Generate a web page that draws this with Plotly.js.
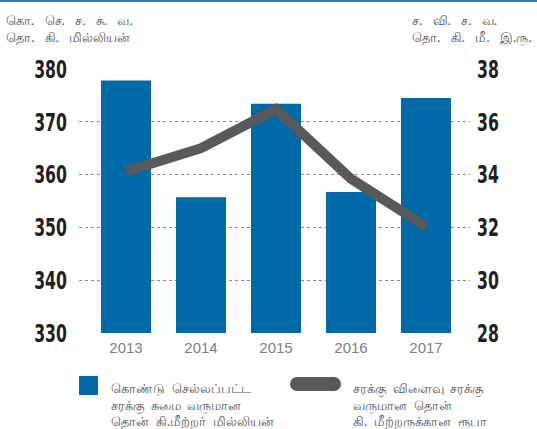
<!DOCTYPE html>
<html>
<head>
<meta charset="utf-8">
<script src="https://cdn.plot.ly/plotly-3.0.1.min.js"></script>
<style>html,body{margin:0;padding:0;background:#fff}#chart{width:537px;height:429px}</style>
</head>
<body>
<div id="chart"></div>
<script>
var years = ['2013', '2014', '2015', '2016', '2017'];
var freightTonKm = [377.8, 355.7, 373.4, 356.7, 374.5];
var revenuePerTonKm = [34.12, 35.0, 36.48, 33.84, 32.03];
var leftTicks = [330, 340, 350, 360, 370, 380];
var rightTicks = [28, 30, 32, 34, 36, 38];
var leftTitle = 'கொ.&nbsp;&nbsp; செ.&nbsp;&nbsp; ச.&nbsp;&nbsp; சு.&nbsp;&nbsp; வ.<br>தொ.&nbsp;&nbsp; கி.&nbsp;&nbsp; மில்லியன்';
var rightTitle = 'ச.&nbsp;&nbsp; வி.&nbsp;&nbsp; ச.&nbsp;&nbsp; வ.<br>தொ.&nbsp;&nbsp; கி.&nbsp;&nbsp; மீ.&nbsp;&nbsp; இ.ரு.';
var barLegend = 'கொண்டு&nbsp; செல்லப்பட்ட<br>சரக்கு&nbsp; சுமை&nbsp; வருமான<br>தொன்&nbsp; கி.மீற்றர்&nbsp; மில்லியன்';
var lineLegend = 'சரக்கு&nbsp; விளைவு&nbsp; சரக்கு<br>வருமான&nbsp; தொன்<br>கி.&nbsp; மீற்றருக்கான&nbsp; ரூபா';

var W = 537, H = 429, L = 79, R = 67, T = 69, B = 96;
var pw = W - L - R, ph = H - T - B;
function px(x){ return (x - L) / pw; }
function py(y){ return (H - B - y) / ph; }

var tickFont = {family: '"DejaVu Sans Condensed", "Liberation Sans Narrow", sans-serif', size: 25, color: '#231f20', weight: 700};
var titleFont = {family: '"Noto Sans", "Liberation Sans", sans-serif', size: 13, color: '#555555'};
var legFont = {family: '"Noto Sans", "Liberation Sans", sans-serif', size: 12.8, color: '#555555'};

var data = [
  {type: 'bar', x: years, y: freightTonKm, marker: {color: '#0069a7'}, showlegend: false, hoverinfo: 'none'},
  {type: 'scatter', mode: 'lines', x: years, y: revenuePerTonKm, yaxis: 'y2',
   line: {color: '#58595b', width: 10}, showlegend: false, hoverinfo: 'none'}
];

var layout = {
  width: W, height: H,
  margin: {l: L, r: R, t: T, b: B},
  paper_bgcolor: '#ffffff', plot_bgcolor: '#ffffff',
  bargap: 0.333,
  xaxis: {type: 'category', range: [-0.627, 4.587], showgrid: false, zeroline: false, showline: false, ticks: '',
          tickfont: {family: '"Liberation Sans", Arial, sans-serif', size: 15, color: '#808080'}, ticklabelstandoff: 4},
  yaxis: {range: [330, 380], tickvals: leftTicks, ticktext: leftTicks.map(String), showgrid: true, gridcolor: '#8a8a8a', griddash: 'dot', gridwidth: 1,
          zeroline: false, showline: false, ticks: '', tickfont: tickFont, ticklabelstandoff: 11},
  yaxis2: {range: [28, 38], overlaying: 'y', side: 'right', tickvals: rightTicks, ticktext: rightTicks.map(String), showgrid: false,
           zeroline: false, showline: false, ticks: '', tickfont: tickFont, ticklabelstandoff: 6},
  shapes: [
    {type: 'line', xref: 'paper', yref: 'paper', x0: px(0), x1: px(W), y0: py(1), y1: py(1), line: {color: '#2e7fbf', width: 2}},
    {type: 'rect', xref: 'paper', yref: 'paper', x0: px(79), x1: px(98), y0: py(376), y1: py(395), fillcolor: '#0069a7', line: {width: 0}},
    {type: 'rect', xref: 'paper', yref: 'paper', xsizemode: 'pixel', ysizemode: 'pixel', xanchor: 0, yanchor: 0,
     x0: 218, x1: 255, y0: -44, y1: -58, fillcolor: '#58595b', line: {width: 0}},
    {type: 'circle', xref: 'paper', yref: 'paper', xsizemode: 'pixel', ysizemode: 'pixel', xanchor: 0, yanchor: 0,
     x0: 211, x1: 225, y0: -44, y1: -58, fillcolor: '#58595b', line: {width: 0}},
    {type: 'circle', xref: 'paper', yref: 'paper', xsizemode: 'pixel', ysizemode: 'pixel', xanchor: 0, yanchor: 0,
     x0: 248, x1: 262, y0: -44, y1: -58, fillcolor: '#58595b', line: {width: 0}}
  ],
  annotations: [
    {xref: 'paper', yref: 'paper', x: px(4), y: py(9), xanchor: 'left', yanchor: 'top', align: 'left', showarrow: false, text: leftTitle, font: titleFont},
    {xref: 'paper', yref: 'paper', x: px(534), y: py(9), xanchor: 'right', yanchor: 'top', align: 'left', showarrow: false, text: rightTitle, font: titleFont},
    {xref: 'paper', yref: 'paper', x: px(109), y: py(377), xanchor: 'left', yanchor: 'top', align: 'left', showarrow: false, text: barLegend, font: legFont},
    {xref: 'paper', yref: 'paper', x: px(351), y: py(377), xanchor: 'left', yanchor: 'top', align: 'left', showarrow: false, text: lineLegend, font: legFont}
  ]
};

Plotly.newPlot('chart', data, layout, {displayModeBar: false, staticPlot: true}).then(function () {
  document.querySelectorAll('.ytick text, .y2tick text').forEach(function (t) {
    var x = parseFloat(t.getAttribute('x')) || 0;
    var tr = t.getAttribute('transform') || '';
    t.setAttribute('transform', tr + ' translate(' + x + ',0) scale(0.7,1) translate(' + (-x) + ',0)');
  });
});
</script>
</body>
</html>
